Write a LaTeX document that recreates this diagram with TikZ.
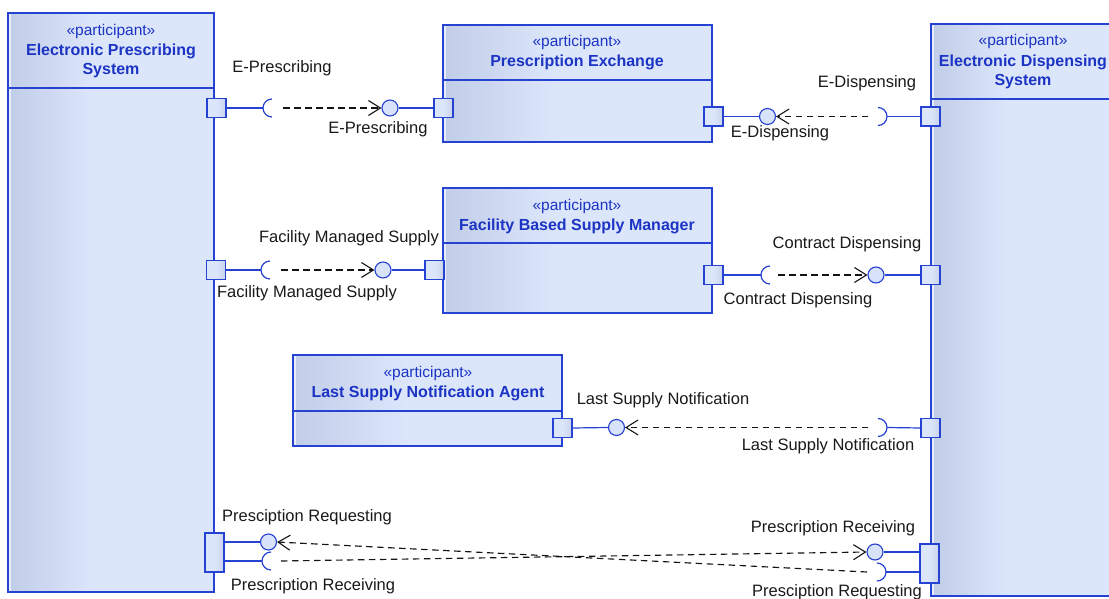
\documentclass[tikz,border=0pt]{standalone}
\usepackage{fontspec}
\setmainfont{Liberation Sans}
\usetikzlibrary{arrows.meta,calc}
\definecolor{umlblue}{RGB}{38,66,210}
\definecolor{umltext}{RGB}{28,52,196}
\definecolor{filldark}{RGB}{194,205,232}
\definecolor{filllight}{RGB}{220,230,251}
\definecolor{dashcol}{RGB}{20,20,20}
\tikzset{
  partbox/.style={draw=umlblue, line width=1.2pt, rectangle, inner sep=0pt,
    path picture={
      \fill[filllight] (path picture bounding box.south west) rectangle (path picture bounding box.north east);
      \shade[left color=filldark, right color=filllight]
        ($(path picture bounding box.south west)+(3,0)$) rectangle
        ($(path picture bounding box.north west)!0.42!(path picture bounding box.north east)$);
      \fill[filllight!70!white] (path picture bounding box.south west) rectangle ($(path picture bounding box.north west)+(3,0)$);
    }},
  sepline/.style={draw=umlblue, line width=1.1pt},
  portbox/.style={draw=umlblue, line width=1.2pt, rectangle, inner sep=0pt,
    minimum width=19pt, minimum height=19pt, left color=filllight, right color=filldark!90!white, middle color=filllight},
  ball/.style={draw=umlblue, line width=1.1pt, circle, inner sep=0pt, minimum size=16pt, fill=filllight!85!filldark},
  solidlink/.style={draw=umlblue, line width=1.2pt},
  sock/.style={draw=umlblue, line width=1.2pt},
  deplink/.style={draw=dashcol, line width=1.15pt, dash pattern=on 6.5pt off 4.5pt,
    -{Straight Barb[length=12pt,width=15pt,line width=1.1pt]}},
  lbl/.style={font=\fontsize{16.5}{19}\selectfont, text=black!90, inner sep=0pt},
  stereo/.style={font=\fontsize{15.5}{18}\selectfont, text=umltext, inner sep=0pt, align=center},
  pname/.style={font=\fontsize{16}{19.5}\selectfont\bfseries, text=umltext, inner sep=0pt, align=center},
}
\begin{document}
\begin{tikzpicture}[x=1pt,y=-1pt]
\useasboundingbox (0,0) rectangle (1109,599);
\begin{scope}
\clip (0,0) rectangle (1109,599);
% ---------- Boxes ----------
\node[partbox, minimum width=206pt, minimum height=579pt] (eps) at (111,302.5) {};
\draw[sepline] (eps.west |- 0,88) -- (eps.east |- 0,88);
\node[stereo] (epsS) at (111,31) {«participant»};
\node[pname] (epsN) at (111,61) {Electronic Prescribing\\System};

\node[partbox, minimum width=269pt, minimum height=117pt] (pe) at (577.5,83.5) {};
\draw[sepline] (pe.west |- 0,80) -- (pe.east |- 0,80);
\node[stereo] (peS) at (577,42) {«participant»};
\node[pname] (peN) at (577,62) {Prescription Exchange};

\node[partbox, minimum width=185pt, minimum height=572pt] (eds) at (1023.5,310) {};
\draw[sepline] (eds.west |- 0,99) -- (eds.east |- 0,99);
\node[stereo] (edsS) at (1023,41) {«participant»};
\node[pname] (edsN) at (1023,72) {Electronic Dispensing\\System};

\node[partbox, minimum width=269pt, minimum height=125pt] (fb) at (577.5,250.5) {};
\draw[sepline] (fb.west |- 0,243) -- (fb.east |- 0,243);
\node[stereo] (fbS) at (577,206) {«participant»};
\node[pname] (fbN) at (577,226) {Facility Based Supply Manager};

\node[partbox, minimum width=269pt, minimum height=91pt] (ls) at (427.5,400.5) {};
\draw[sepline] (ls.west |- 0,411) -- (ls.east |- 0,411);
\node[stereo] (lsS) at (428,373) {«participant»};
\node[pname] (lsN) at (428,393) {Last Supply Notification Agent};

% ---------- Ports ----------
\node[portbox] (p1) at (216.5,108) {};
\node[portbox] (p2) at (443.5,108) {};
\node[portbox] (p3) at (713.5,116.5) {};
\node[portbox] (p4) at (930.5,116.5) {};
\node[portbox] (p5) at (216,270) {};
\node[portbox] (p6) at (434.5,270) {};
\node[portbox] (p7) at (713.5,275) {};
\node[portbox] (p8) at (930.5,275) {};
\node[portbox] (p9) at (562.5,428) {};
\node[portbox] (p10) at (930.5,428) {};
\node[portbox, minimum height=39pt] (p11) at (214.5,552.5) {};
\node[portbox, minimum height=39pt] (p12) at (929.5,563.5) {};

% ---------- Row 1 left: E-Prescribing ----------
\coordinate (s1) at (263,108);
\coordinate (d1) at (283,108);
\node[ball] (b1) at (390,108) {};
\draw[solidlink] (p1.east) -- (s1);
\draw[sock] (272,99) arc[start angle=270,end angle=90,radius=9];
\draw[deplink] (d1) -- (b1.west);
\draw[solidlink] (b1.east) -- (p2.west);
\node[lbl] (l1a) at (282,68) {E-Prescribing};
\node[lbl] (l1b) at (378,129) {E-Prescribing};

% ---------- Row 1 right: E-Dispensing ----------
\node[ball] (b2) at (767.5,116.5) {};
\coordinate (s2) at (887,116.5);
\coordinate (d2) at (868,116.5);
\draw[solidlink] (p3.east) -- (b2.west);
\draw[sock] (878,107.5) arc[start angle=270,end angle=450,radius=9];
\draw[deplink] (d2) -- (b2.east);
\draw[solidlink] (s2) -- (p4.west);
\node[lbl] (l2a) at (867,83) {E-Dispensing};
\node[lbl] (l2b) at (780,133) {E-Dispensing};

% ---------- Row 2 left: Facility Managed Supply ----------
\coordinate (s3) at (261,270);
\coordinate (d3) at (281,270);
\node[ball] (b3) at (383,270) {};
\draw[solidlink] (p5.east) -- (s3);
\draw[sock] (270,261) arc[start angle=270,end angle=90,radius=9];
\draw[deplink] (d3) -- (b3.west);
\draw[solidlink] (b3.east) -- (p6.west);
\node[lbl, anchor=east] (l3a) at (439,238) {Facility Managed Supply};
\node[lbl] (l3b) at (307,293) {Facility Managed Supply};

% ---------- Row 2 right: Contract Dispensing ----------
\coordinate (s4) at (761,275);
\coordinate (d4) at (778,275);
\node[ball] (b4) at (876,275) {};
\draw[solidlink] (p7.east) -- (s4);
\draw[sock] (770,266) arc[start angle=270,end angle=90,radius=9];
\draw[deplink] (d4) -- (b4.west);
\draw[solidlink] (b4.east) -- (p8.west);
\node[lbl] (l4a) at (847,244) {Contract Dispensing};
\node[lbl] (l4b) at (798,300) {Contract Dispensing};

% ---------- Row 3: Last Supply Notification ----------
\node[ball] (b5) at (616.5,427.5) {};
\coordinate (s5) at (887,427.5);
\coordinate (d5) at (868,427.5);
\draw[solidlink] (p9.east) -- (b5.west);
\draw[sock] (878,418.5) arc[start angle=270,end angle=450,radius=9];
\draw[deplink] (d5) -- (b5.east);
\draw[solidlink] (s5) -- (p10.west);
\node[lbl] (l5a) at (663,400) {Last Supply Notification};
\node[lbl] (l5b) at (828,446) {Last Supply Notification};

% ---------- Row 4: Prescription Requesting / Receiving ----------
\node[ball] (b6) at (268.5,542) {};
\coordinate (s6) at (262,561);
\coordinate (d6) at (281,561);
\draw[solidlink] (p11.east |- b6) -- (b6.west);
\draw[solidlink] (p11.east |- s6) -- (s6);
\draw[sock] (271,552) arc[start angle=270,end angle=90,radius=9];

\node[ball] (b7) at (875,552) {};
\coordinate (s7) at (886,572);
\coordinate (d7) at (867,572);
\draw[solidlink] (b7.east) -- (p12.west |- b7);
\draw[solidlink] (s7) -- (p12.west |- s7);
\draw[sock] (877,563) arc[start angle=270,end angle=450,radius=9];

\draw[deplink] (d7) -- (b6.east);
\draw[deplink] (d6) -- (b7.west);

\node[lbl] (l6a) at (307,517) {Presciption Requesting};
\node[lbl] (l6b) at (313,586) {Prescription Receiving};
\node[lbl] (l7a) at (833,528) {Prescription Receiving};
\node[lbl] (l7b) at (837,592) {Presciption Requesting};
\end{scope}
\end{tikzpicture}
\end{document}
